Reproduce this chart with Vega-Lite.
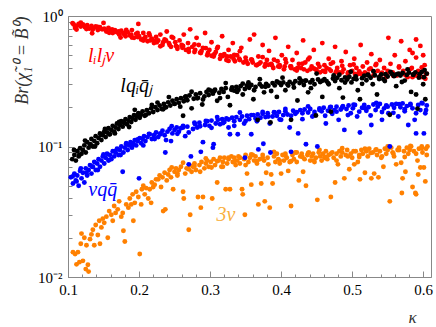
{
"$schema":"https://vega.github.io/schema/vega-lite/v6.json",
"autosize":{"type":"none"},
"padding":{"left":68,"top":16,"right":5,"bottom":50},
"width":363,"height":261,
"config":{"view":{"stroke":"#888888","strokeWidth":1},"axis":{"domainColor":"#888888","tickColor":"#888888","grid":false,"labelFont":"Liberation Serif","labelFontSize":15,"labelColor":"#000000","titleFont":"Liberation Serif","titleFontWeight":"normal","titleColor":"#333333"}},
"resolve":{"axis":{"x":"independent","y":"independent"}},
"datasets":{
"pts":[
{"s":"o","k":0.107,"b":0.0155},{"s":"o","k":0.110,"b":0.015},{"s":"o","k":0.112,"b":0.0125},{"s":"o","k":0.114,"b":0.0155},{"s":"o","k":0.116,"b":0.013},{"s":"o","k":0.118,"b":0.018},{"s":"o","k":0.119,"b":0.0215},{"s":"o","k":0.121,"b":0.0133},{"s":"o","k":0.123,"b":0.020},{"s":"o","k":0.125,"b":0.0115},{"s":"o","k":0.126,"b":0.0175},{"s":"o","k":0.128,"b":0.0124},{"s":"o","k":0.129,"b":0.011},{"s":"o","k":0.131,"b":0.0195},{"s":"o","k":0.133,"b":0.0212},{"s":"o","k":0.135,"b":0.023},{"s":"o","k":0.137,"b":0.0175},{"s":"o","k":0.139,"b":0.025},{"s":"o","k":0.142,"b":0.021},{"s":"o","k":0.144,"b":0.027},{"s":"o","k":0.145,"b":0.018},{"s":"o","k":0.147,"b":0.024},{"s":"o","k":0.149,"b":0.028},{"s":"o","k":0.151,"b":0.026},{"s":"o","k":0.154,"b":0.029},{"s":"o","k":0.156,"b":0.020},{"s":"o","k":0.158,"b":0.032},{"s":"o","k":0.161,"b":0.030},{"s":"o","k":0.163,"b":0.027},{"s":"o","k":0.165,"b":0.035},{"s":"o","k":0.167,"b":0.031},{"s":"o","k":0.170,"b":0.033},{"s":"o","k":0.172,"b":0.038},{"s":"o","k":0.175,"b":0.029},{"s":"o","k":0.177,"b":0.031},{"s":"o","k":0.178,"b":0.0226},{"s":"o","k":0.180,"b":0.0187},{"s":"o","k":0.182,"b":0.036},{"s":"o","k":0.185,"b":0.034},{"s":"o","k":0.187,"b":0.040},{"s":"o","k":0.189,"b":0.036},{"s":"o","k":0.191,"b":0.043},{"s":"o","k":0.192,"b":0.027},{"s":"o","k":0.194,"b":0.037},{"s":"o","k":0.196,"b":0.045},{"s":"o","k":0.199,"b":0.041},{"s":"o","k":0.201,"b":0.015},{"s":"o","k":0.203,"b":0.036},{"s":"o","k":0.204,"b":0.047},{"s":"o","k":0.206,"b":0.050},{"s":"o","k":0.208,"b":0.043},{"s":"o","k":0.210,"b":0.048},{"s":"o","k":0.213,"b":0.040},{"s":"o","k":0.215,"b":0.047},{"s":"o","k":0.217,"b":0.037},{"s":"o","k":0.218,"b":0.053},{"s":"o","k":0.220,"b":0.049},{"s":"o","k":0.222,"b":0.051},{"s":"o","k":0.224,"b":0.056},{"s":"o","k":0.227,"b":0.056},{"s":"o","k":0.229,"b":0.060},{"s":"o","k":0.231,"b":0.049},{"s":"o","k":0.233,"b":0.058},{"s":"o","k":0.234,"b":0.032},{"s":"o","k":0.236,"b":0.063},{"s":"o","k":0.237,"b":0.033},{"s":"o","k":0.239,"b":0.055},{"s":"o","k":0.241,"b":0.061},{"s":"o","k":0.243,"b":0.066},{"s":"o","k":0.245,"b":0.058},{"s":"o","k":0.248,"b":0.047},{"s":"o","k":0.250,"b":0.064},{"s":"o","k":0.252,"b":0.068},{"s":"o","k":0.254,"b":0.060},{"s":"o","k":0.256,"b":0.066},{"s":"o","k":0.259,"b":0.070},{"s":"o","k":0.262,"b":0.045},{"s":"o","k":0.263,"b":0.040},{"s":"o","k":0.265,"b":0.062},{"s":"o","k":0.267,"b":0.068},{"s":"o","k":0.270,"b":0.023},{"s":"o","k":0.271,"b":0.072},{"s":"o","k":0.272,"b":0.030},{"s":"o","k":0.274,"b":0.064},{"s":"o","k":0.276,"b":0.070},{"s":"o","k":0.278,"b":0.074},{"s":"o","k":0.280,"b":0.066},{"s":"o","k":0.283,"b":0.041},{"s":"o","k":0.285,"b":0.072},{"s":"o","k":0.287,"b":0.034},{"s":"o","k":0.288,"b":0.076},{"s":"o","k":0.290,"b":0.041},{"s":"o","k":0.292,"b":0.068},{"s":"o","k":0.294,"b":0.074},{"s":"o","k":0.296,"b":0.078},{"s":"o","k":0.298,"b":0.070},{"s":"o","k":0.301,"b":0.076},{"s":"o","k":0.303,"b":0.040},{"s":"o","k":0.305,"b":0.080},{"s":"o","k":0.307,"b":0.072},{"s":"o","k":0.310,"b":0.053},{"s":"o","k":0.312,"b":0.078},{"s":"o","k":0.314,"b":0.082},{"s":"o","k":0.316,"b":0.070},{"s":"o","k":0.318,"b":0.076},{"s":"o","k":0.320,"b":0.082},{"s":"o","k":0.322,"b":0.047},{"s":"o","k":0.324,"b":0.074},{"s":"o","k":0.326,"b":0.080},{"s":"o","k":0.328,"b":0.047},{"s":"o","k":0.330,"b":0.084},{"s":"o","k":0.332,"b":0.076},{"s":"o","k":0.334,"b":0.082},{"s":"o","k":0.336,"b":0.072},{"s":"o","k":0.338,"b":0.078},{"s":"o","k":0.340,"b":0.084},{"s":"o","k":0.342,"b":0.074},{"s":"o","k":0.345,"b":0.047},{"s":"o","k":0.346,"b":0.043},{"s":"o","k":0.348,"b":0.080},{"s":"o","k":0.349,"b":0.030},{"s":"o","k":0.350,"b":0.086},{"s":"o","k":0.352,"b":0.062},{"s":"o","k":0.354,"b":0.076},{"s":"o","k":0.356,"b":0.082},{"s":"o","k":0.358,"b":0.051},{"s":"o","k":0.360,"b":0.086},{"s":"o","k":0.362,"b":0.078},{"s":"o","k":0.364,"b":0.084},{"s":"o","k":0.366,"b":0.074},{"s":"o","k":0.368,"b":0.036},{"s":"o","k":0.370,"b":0.080},{"s":"o","k":0.372,"b":0.052},{"s":"o","k":0.374,"b":0.086},{"s":"o","k":0.376,"b":0.078},{"s":"o","k":0.377,"b":0.038},{"s":"o","k":0.379,"b":0.063},{"s":"o","k":0.381,"b":0.082},{"s":"o","k":0.384,"b":0.034},{"s":"o","k":0.386,"b":0.061},{"s":"o","k":0.388,"b":0.052},{"s":"o","k":0.390,"b":0.084},{"s":"o","k":0.392,"b":0.076},{"s":"o","k":0.394,"b":0.088},{"s":"o","k":0.396,"b":0.080},{"s":"o","k":0.398,"b":0.074},{"s":"o","k":0.400,"b":0.062},{"s":"o","k":0.402,"b":0.086},{"s":"o","k":0.404,"b":0.078},{"s":"o","k":0.406,"b":0.088},{"s":"o","k":0.408,"b":0.082},{"s":"o","k":0.410,"b":0.065},{"s":"o","k":0.412,"b":0.076},{"s":"o","k":0.414,"b":0.035},{"s":"o","k":0.416,"b":0.086},{"s":"o","k":0.418,"b":0.080},{"s":"o","k":0.420,"b":0.090},{"s":"o","k":0.422,"b":0.076},{"s":"o","k":0.425,"b":0.055},{"s":"o","k":0.427,"b":0.084},{"s":"o","k":0.429,"b":0.088},{"s":"o","k":0.431,"b":0.064},{"s":"o","k":0.433,"b":0.080},{"s":"o","k":0.435,"b":0.050},{"s":"o","k":0.437,"b":0.086},{"s":"o","k":0.439,"b":0.090},{"s":"o","k":0.441,"b":0.078},{"s":"o","k":0.443,"b":0.084},{"s":"o","k":0.445,"b":0.088},{"s":"o","k":0.447,"b":0.076},{"s":"o","k":0.449,"b":0.082},{"s":"o","k":0.451,"b":0.039},{"s":"o","k":0.453,"b":0.090},{"s":"o","k":0.455,"b":0.084},{"s":"o","k":0.457,"b":0.078},{"s":"o","k":0.459,"b":0.088},{"s":"o","k":0.461,"b":0.082},{"s":"o","k":0.463,"b":0.092},{"s":"o","k":0.465,"b":0.080},{"s":"o","k":0.467,"b":0.086},{"s":"o","k":0.470,"b":0.041},{"s":"o","k":0.472,"b":0.090},{"s":"o","k":0.474,"b":0.082},{"s":"o","k":0.476,"b":0.053},{"s":"o","k":0.478,"b":0.088},{"s":"o","k":0.480,"b":0.073},{"s":"o","k":0.482,"b":0.092},{"s":"o","k":0.484,"b":0.084},{"s":"o","k":0.486,"b":0.090},{"s":"o","k":0.489,"b":0.057},{"s":"o","k":0.491,"b":0.086},{"s":"o","k":0.493,"b":0.094},{"s":"o","k":0.496,"b":0.067},{"s":"o","k":0.498,"b":0.088},{"s":"o","k":0.500,"b":0.082},{"s":"o","k":0.503,"b":0.073},{"s":"o","k":0.505,"b":0.092},{"s":"o","k":0.508,"b":0.076},{"s":"o","k":0.510,"b":0.086},{"s":"o","k":0.511,"b":0.056},{"s":"o","k":0.513,"b":0.094},{"s":"o","k":0.515,"b":0.088},{"s":"o","k":0.518,"b":0.063},{"s":"o","k":0.520,"b":0.092},{"s":"o","k":0.522,"b":0.084},{"s":"o","k":0.524,"b":0.096},{"s":"o","k":0.527,"b":0.057},{"s":"o","k":0.529,"b":0.090},{"s":"o","k":0.531,"b":0.062},{"s":"o","k":0.533,"b":0.094},{"s":"o","k":0.535,"b":0.086},{"s":"o","k":0.537,"b":0.058},{"s":"o","k":0.539,"b":0.092},{"s":"o","k":0.541,"b":0.082},{"s":"o","k":0.544,"b":0.070},{"s":"o","k":0.546,"b":0.096},{"s":"o","k":0.548,"b":0.088},{"s":"o","k":0.550,"b":0.094},{"s":"o","k":0.553,"b":0.038},{"s":"o","k":0.555,"b":0.098},{"s":"o","k":0.557,"b":0.090},{"s":"o","k":0.559,"b":0.084},{"s":"o","k":0.562,"b":0.073},{"s":"o","k":0.564,"b":0.094},{"s":"o","k":0.566,"b":0.098},{"s":"o","k":0.569,"b":0.075},{"s":"o","k":0.570,"b":0.044},{"s":"o","k":0.571,"b":0.057},{"s":"o","k":0.573,"b":0.092},{"s":"o","k":0.575,"b":0.064},{"s":"o","k":0.577,"b":0.098},{"s":"o","k":0.579,"b":0.088},{"s":"o","k":0.581,"b":0.094},{"s":"o","k":0.583,"b":0.100},{"s":"o","k":0.585,"b":0.049},{"s":"o","k":0.587,"b":0.092},{"s":"o","k":0.589,"b":0.044},{"s":"o","k":0.590,"b":0.043},{"s":"o","k":0.592,"b":0.078},{"s":"o","k":0.593,"b":0.061},{"s":"o","k":0.594,"b":0.096},{"s":"o","k":0.596,"b":0.069},{"s":"o","k":0.598,"b":0.100},{"s":"o","k":0.599,"b":0.090},{"s":"o","k":0.601,"b":0.069},{"s":"o","k":0.603,"b":0.054},{"s":"o","k":0.604,"b":0.096},{"s":"o","k":0.606,"b":0.100},{"s":"o","k":0.605,"b":0.086},
{"s":"o","k":0.246,"b":0.069},{"s":"o","k":0.254,"b":0.062},{"s":"o","k":0.262,"b":0.075},{"s":"o","k":0.270,"b":0.067},{"s":"o","k":0.278,"b":0.071},{"s":"o","k":0.286,"b":0.064},{"s":"o","k":0.294,"b":0.081},{"s":"o","k":0.302,"b":0.069},{"s":"o","k":0.310,"b":0.077},{"s":"o","k":0.318,"b":0.070},{"s":"o","k":0.326,"b":0.082},{"s":"o","k":0.334,"b":0.076},{"s":"o","k":0.342,"b":0.082},{"s":"o","k":0.350,"b":0.072},{"s":"o","k":0.358,"b":0.087},{"s":"o","k":0.366,"b":0.077},{"s":"o","k":0.374,"b":0.082},{"s":"o","k":0.382,"b":0.073},{"s":"o","k":0.390,"b":0.091},{"s":"o","k":0.398,"b":0.078},{"s":"o","k":0.406,"b":0.085},{"s":"o","k":0.414,"b":0.077},{"s":"o","k":0.422,"b":0.090},{"s":"o","k":0.430,"b":0.083},{"s":"o","k":0.438,"b":0.089},{"s":"o","k":0.446,"b":0.078},{"s":"o","k":0.454,"b":0.094},{"s":"o","k":0.462,"b":0.083},{"s":"o","k":0.470,"b":0.088},{"s":"o","k":0.478,"b":0.078},{"s":"o","k":0.486,"b":0.097},{"s":"o","k":0.494,"b":0.084},{"s":"o","k":0.502,"b":0.092},{"s":"o","k":0.510,"b":0.083},{"s":"o","k":0.518,"b":0.096},{"s":"o","k":0.526,"b":0.089},{"s":"o","k":0.534,"b":0.095},{"s":"o","k":0.542,"b":0.084},{"s":"o","k":0.550,"b":0.100},{"s":"o","k":0.558,"b":0.088},{"s":"o","k":0.566,"b":0.094},{"s":"o","k":0.574,"b":0.083},{"s":"o","k":0.582,"b":0.101},{"s":"o","k":0.590,"b":0.088},{"s":"o","k":0.598,"b":0.097},
{"s":"u","k":0.104,"b":0.058},{"s":"u","k":0.107,"b":0.052},{"s":"u","k":0.109,"b":0.062},{"s":"u","k":0.111,"b":0.055},{"s":"u","k":0.113,"b":0.060},{"s":"u","k":0.115,"b":0.050},{"s":"u","k":0.117,"b":0.065},{"s":"u","k":0.119,"b":0.057},{"s":"u","k":0.121,"b":0.063},{"s":"u","k":0.123,"b":0.053},{"s":"u","k":0.125,"b":0.068},{"s":"u","k":0.127,"b":0.060},{"s":"u","k":0.129,"b":0.066},{"s":"u","k":0.131,"b":0.072},{"s":"u","k":0.133,"b":0.062},{"s":"u","k":0.135,"b":0.070},{"s":"u","k":0.137,"b":0.076},{"s":"u","k":0.139,"b":0.066},{"s":"u","k":0.141,"b":0.074},{"s":"u","k":0.143,"b":0.080},{"s":"u","k":0.145,"b":0.070},{"s":"u","k":0.147,"b":0.078},{"s":"u","k":0.149,"b":0.084},{"s":"u","k":0.151,"b":0.074},{"s":"u","k":0.153,"b":0.082},{"s":"u","k":0.155,"b":0.088},{"s":"u","k":0.157,"b":0.078},{"s":"u","k":0.159,"b":0.086},{"s":"u","k":0.161,"b":0.080},{"s":"u","k":0.163,"b":0.092},{"s":"u","k":0.165,"b":0.084},{"s":"u","k":0.167,"b":0.090},{"s":"u","k":0.169,"b":0.096},{"s":"u","k":0.171,"b":0.086},{"s":"u","k":0.173,"b":0.094},{"s":"u","k":0.175,"b":0.100},{"s":"u","k":0.177,"b":0.064},{"s":"u","k":0.178,"b":0.090},{"s":"u","k":0.180,"b":0.098},{"s":"u","k":0.182,"b":0.104},{"s":"u","k":0.184,"b":0.094},{"s":"u","k":0.186,"b":0.102},{"s":"u","k":0.188,"b":0.108},{"s":"u","k":0.190,"b":0.098},{"s":"u","k":0.192,"b":0.106},{"s":"u","k":0.194,"b":0.112},{"s":"u","k":0.196,"b":0.102},{"s":"u","k":0.198,"b":0.110},{"s":"u","k":0.200,"b":0.057},{"s":"u","k":0.201,"b":0.116},{"s":"u","k":0.203,"b":0.106},{"s":"u","k":0.205,"b":0.114},{"s":"u","k":0.207,"b":0.120},{"s":"u","k":0.209,"b":0.110},{"s":"u","k":0.212,"b":0.118},{"s":"u","k":0.215,"b":0.124},{"s":"u","k":0.218,"b":0.114},{"s":"u","k":0.221,"b":0.122},{"s":"u","k":0.224,"b":0.128},{"s":"u","k":0.227,"b":0.118},{"s":"u","k":0.230,"b":0.126},{"s":"u","k":0.233,"b":0.132},{"s":"u","k":0.236,"b":0.122},{"s":"u","k":0.237,"b":0.090},{"s":"u","k":0.240,"b":0.130},{"s":"u","k":0.243,"b":0.136},{"s":"u","k":0.245,"b":0.110},{"s":"u","k":0.247,"b":0.126},{"s":"u","k":0.250,"b":0.134},{"s":"u","k":0.253,"b":0.140},{"s":"u","k":0.256,"b":0.130},{"s":"u","k":0.259,"b":0.138},{"s":"u","k":0.262,"b":0.144},{"s":"u","k":0.265,"b":0.120},{"s":"u","k":0.268,"b":0.142},{"s":"u","k":0.270,"b":0.073},{"s":"u","k":0.273,"b":0.084},{"s":"u","k":0.276,"b":0.136},{"s":"u","k":0.279,"b":0.148},{"s":"u","k":0.282,"b":0.140},{"s":"u","k":0.285,"b":0.152},{"s":"u","k":0.287,"b":0.091},{"s":"u","k":0.290,"b":0.108},{"s":"u","k":0.293,"b":0.146},{"s":"u","k":0.296,"b":0.156},{"s":"u","k":0.299,"b":0.144},{"s":"u","k":0.302,"b":0.158},{"s":"u","k":0.304,"b":0.098},{"s":"u","k":0.305,"b":0.104},{"s":"u","k":0.308,"b":0.150},{"s":"u","k":0.311,"b":0.160},{"s":"u","k":0.314,"b":0.148},{"s":"u","k":0.317,"b":0.162},{"s":"u","k":0.320,"b":0.154},{"s":"u","k":0.323,"b":0.164},{"s":"u","k":0.326,"b":0.140},{"s":"u","k":0.328,"b":0.124},{"s":"u","k":0.331,"b":0.166},{"s":"u","k":0.334,"b":0.156},{"s":"u","k":0.337,"b":0.168},{"s":"u","k":0.339,"b":0.124},{"s":"u","k":0.342,"b":0.160},{"s":"u","k":0.345,"b":0.170},{"s":"u","k":0.348,"b":0.150},{"s":"u","k":0.349,"b":0.082},{"s":"u","k":0.352,"b":0.172},{"s":"u","k":0.355,"b":0.162},{"s":"u","k":0.358,"b":0.124},{"s":"u","k":0.361,"b":0.174},{"s":"u","k":0.364,"b":0.164},{"s":"u","k":0.367,"b":0.176},{"s":"u","k":0.368,"b":0.095},{"s":"u","k":0.371,"b":0.166},{"s":"u","k":0.374,"b":0.178},{"s":"u","k":0.375,"b":0.105},{"s":"u","k":0.378,"b":0.168},{"s":"u","k":0.381,"b":0.180},{"s":"u","k":0.384,"b":0.150},{"s":"u","k":0.385,"b":0.090},{"s":"u","k":0.388,"b":0.170},{"s":"u","k":0.391,"b":0.182},{"s":"u","k":0.394,"b":0.172},{"s":"u","k":0.397,"b":0.184},{"s":"u","k":0.400,"b":0.160},{"s":"u","k":0.403,"b":0.174},{"s":"u","k":0.406,"b":0.186},{"s":"u","k":0.409,"b":0.176},{"s":"u","k":0.412,"b":0.140},{"s":"u","k":0.414,"b":0.091},{"s":"u","k":0.417,"b":0.188},{"s":"u","k":0.420,"b":0.178},{"s":"u","k":0.424,"b":0.126},{"s":"u","k":0.427,"b":0.190},{"s":"u","k":0.430,"b":0.180},{"s":"u","k":0.433,"b":0.192},{"s":"u","k":0.435,"b":0.104},{"s":"u","k":0.438,"b":0.182},{"s":"u","k":0.441,"b":0.194},{"s":"u","k":0.444,"b":0.170},{"s":"u","k":0.447,"b":0.184},{"s":"u","k":0.451,"b":0.100},{"s":"u","k":0.454,"b":0.196},{"s":"u","k":0.457,"b":0.186},{"s":"u","k":0.460,"b":0.198},{"s":"u","k":0.463,"b":0.150},{"s":"u","k":0.466,"b":0.188},{"s":"u","k":0.469,"b":0.200},{"s":"u","k":0.472,"b":0.178},{"s":"u","k":0.475,"b":0.190},{"s":"u","k":0.478,"b":0.202},{"s":"u","k":0.481,"b":0.160},{"s":"u","k":0.484,"b":0.192},{"s":"u","k":0.487,"b":0.204},{"s":"u","k":0.489,"b":0.134},{"s":"u","k":0.492,"b":0.194},{"s":"u","k":0.495,"b":0.206},{"s":"u","k":0.498,"b":0.180},{"s":"u","k":0.501,"b":0.196},{"s":"u","k":0.504,"b":0.208},{"s":"u","k":0.507,"b":0.170},{"s":"u","k":0.511,"b":0.128},{"s":"u","k":0.514,"b":0.198},{"s":"u","k":0.517,"b":0.208},{"s":"u","k":0.520,"b":0.188},{"s":"u","k":0.523,"b":0.200},{"s":"u","k":0.527,"b":0.146},{"s":"u","k":0.530,"b":0.210},{"s":"u","k":0.533,"b":0.190},{"s":"u","k":0.536,"b":0.202},{"s":"u","k":0.539,"b":0.212},{"s":"u","k":0.542,"b":0.160},{"s":"u","k":0.545,"b":0.196},{"s":"u","k":0.548,"b":0.206},{"s":"u","k":0.551,"b":0.180},{"s":"u","k":0.553,"b":0.100},{"s":"u","k":0.556,"b":0.210},{"s":"u","k":0.559,"b":0.198},{"s":"u","k":0.562,"b":0.212},{"s":"u","k":0.565,"b":0.170},{"s":"u","k":0.568,"b":0.200},{"s":"u","k":0.571,"b":0.214},{"s":"u","k":0.574,"b":0.186},{"s":"u","k":0.577,"b":0.204},{"s":"u","k":0.579,"b":0.146},{"s":"u","k":0.582,"b":0.212},{"s":"u","k":0.585,"b":0.196},{"s":"u","k":0.588,"b":0.160},{"s":"u","k":0.590,"b":0.126},{"s":"u","k":0.593,"b":0.208},{"s":"u","k":0.596,"b":0.190},{"s":"u","k":0.599,"b":0.214},{"s":"u","k":0.601,"b":0.126},{"s":"u","k":0.603,"b":0.180},{"s":"u","k":0.605,"b":0.206},
{"s":"u","k":0.1065,"b":0.059},{"s":"u","k":0.112,"b":0.054},{"s":"u","k":0.118,"b":0.068},{"s":"u","k":0.126,"b":0.063},{"s":"u","k":0.134,"b":0.070},{"s":"u","k":0.142,"b":0.066},{"s":"u","k":0.150,"b":0.087},{"s":"u","k":0.158,"b":0.079},{"s":"u","k":0.166,"b":0.092},{"s":"u","k":0.174,"b":0.086},{"s":"u","k":0.182,"b":0.106},{"s":"u","k":0.190,"b":0.101},{"s":"u","k":0.198,"b":0.113},{"s":"u","k":0.206,"b":0.102},{"s":"u","k":0.214,"b":0.125},{"s":"u","k":0.222,"b":0.114},{"s":"u","k":0.230,"b":0.124},{"s":"u","k":0.238,"b":0.112},{"s":"u","k":0.246,"b":0.143},{"s":"u","k":0.254,"b":0.125},{"s":"u","k":0.262,"b":0.140},{"s":"u","k":0.270,"b":0.128},{"s":"u","k":0.278,"b":0.152},{"s":"u","k":0.286,"b":0.143},{"s":"u","k":0.294,"b":0.157},{"s":"u","k":0.302,"b":0.139},{"s":"u","k":0.310,"b":0.168},{"s":"u","k":0.318,"b":0.151},{"s":"u","k":0.326,"b":0.161},{"s":"u","k":0.334,"b":0.144},{"s":"u","k":0.342,"b":0.182},{"s":"u","k":0.350,"b":0.157},{"s":"u","k":0.358,"b":0.174},{"s":"u","k":0.366,"b":0.156},{"s":"u","k":0.374,"b":0.184},{"s":"u","k":0.382,"b":0.170},{"s":"u","k":0.390,"b":0.183},{"s":"u","k":0.398,"b":0.161},{"s":"u","k":0.406,"b":0.194},{"s":"u","k":0.414,"b":0.172},{"s":"u","k":0.422,"b":0.183},{"s":"u","k":0.430,"b":0.162},{"s":"u","k":0.438,"b":0.203},{"s":"u","k":0.446,"b":0.173},{"s":"u","k":0.454,"b":0.190},{"s":"u","k":0.462,"b":0.172},{"s":"u","k":0.470,"b":0.201},{"s":"u","k":0.478,"b":0.185},{"s":"u","k":0.486,"b":0.199},{"s":"u","k":0.494,"b":0.174},{"s":"u","k":0.502,"b":0.209},{"s":"u","k":0.510,"b":0.185},{"s":"u","k":0.518,"b":0.196},{"s":"u","k":0.526,"b":0.173},{"s":"u","k":0.534,"b":0.216},{"s":"u","k":0.542,"b":0.184},{"s":"u","k":0.550,"b":0.202},{"s":"u","k":0.558,"b":0.181},{"s":"u","k":0.566,"b":0.211},{"s":"u","k":0.574,"b":0.193},{"s":"u","k":0.582,"b":0.208},{"s":"u","k":0.590,"b":0.180},{"s":"u","k":0.598,"b":0.216},{"s":"u","k":0.604,"b":0.190},
{"s":"r","k":0.108,"b":0.86},{"s":"r","k":0.112,"b":0.84},{"s":"r","k":0.115,"b":0.87},{"s":"r","k":0.118,"b":0.83},{"s":"r","k":0.121,"b":0.86},{"s":"r","k":0.124,"b":0.82},{"s":"r","k":0.127,"b":0.85},{"s":"r","k":0.130,"b":0.80},{"s":"r","k":0.133,"b":0.84},{"s":"r","k":0.136,"b":0.81},{"s":"r","k":0.139,"b":0.83},{"s":"r","k":0.142,"b":0.78},{"s":"r","k":0.145,"b":0.82},{"s":"r","k":0.148,"b":0.79},{"s":"r","k":0.151,"b":0.80},{"s":"r","k":0.154,"b":0.76},{"s":"r","k":0.157,"b":0.81},{"s":"r","k":0.160,"b":0.77},{"s":"r","k":0.163,"b":0.74},{"s":"r","k":0.166,"b":0.78},{"s":"r","k":0.169,"b":0.75},{"s":"r","k":0.172,"b":0.72},{"s":"r","k":0.175,"b":0.77},{"s":"r","k":0.178,"b":0.73},{"s":"r","k":0.181,"b":0.70},{"s":"r","k":0.184,"b":0.75},{"s":"r","k":0.187,"b":0.71},{"s":"r","k":0.190,"b":0.78},{"s":"r","k":0.193,"b":0.68},{"s":"r","k":0.196,"b":0.73},{"s":"r","k":0.199,"b":0.87},{"s":"r","k":0.200,"b":0.70},{"s":"r","k":0.203,"b":0.66},{"s":"r","k":0.206,"b":0.74},{"s":"r","k":0.209,"b":0.69},{"s":"r","k":0.212,"b":0.64},{"s":"r","k":0.215,"b":0.71},{"s":"r","k":0.218,"b":0.67},{"s":"r","k":0.221,"b":0.62},{"s":"r","k":0.224,"b":0.69},{"s":"r","k":0.227,"b":0.65},{"s":"r","k":0.230,"b":0.72},{"s":"r","k":0.233,"b":0.60},{"s":"r","k":0.236,"b":0.66},{"s":"r","k":0.239,"b":0.76},{"s":"r","k":0.242,"b":0.62},{"s":"r","k":0.245,"b":0.58},{"s":"r","k":0.248,"b":0.68},{"s":"r","k":0.251,"b":0.63},{"s":"r","k":0.254,"b":0.56},{"s":"r","k":0.257,"b":0.65},{"s":"r","k":0.260,"b":0.60},{"s":"r","k":0.263,"b":0.72},{"s":"r","k":0.266,"b":0.55},{"s":"r","k":0.269,"b":0.62},{"s":"r","k":0.272,"b":0.79},{"s":"r","k":0.275,"b":0.58},{"s":"r","k":0.278,"b":0.53},{"s":"r","k":0.281,"b":0.68},{"s":"r","k":0.284,"b":0.60},{"s":"r","k":0.287,"b":0.52},{"s":"r","k":0.290,"b":0.57},{"s":"r","k":0.293,"b":0.74},{"s":"r","k":0.296,"b":0.50},{"s":"r","k":0.299,"b":0.55},{"s":"r","k":0.302,"b":0.63},{"s":"r","k":0.305,"b":0.49},{"s":"r","k":0.308,"b":0.53},{"s":"r","k":0.311,"b":0.58},{"s":"r","k":0.314,"b":0.47},{"s":"r","k":0.317,"b":0.70},{"s":"r","k":0.320,"b":0.51},{"s":"r","k":0.323,"b":0.46},{"s":"r","k":0.326,"b":0.55},{"s":"r","k":0.329,"b":0.49},{"s":"r","k":0.332,"b":0.62},{"s":"r","k":0.335,"b":0.45},{"s":"r","k":0.338,"b":0.50},{"s":"r","k":0.341,"b":0.47},{"s":"r","k":0.344,"b":0.57},{"s":"r","k":0.347,"b":0.44},{"s":"r","k":0.350,"b":0.48},{"s":"r","k":0.353,"b":0.43},{"s":"r","k":0.356,"b":0.66},{"s":"r","k":0.359,"b":0.46},{"s":"r","k":0.362,"b":0.72},{"s":"r","k":0.365,"b":0.42},{"s":"r","k":0.368,"b":0.49},{"s":"r","k":0.371,"b":0.44},{"s":"r","k":0.374,"b":0.60},{"s":"r","k":0.377,"b":0.41},{"s":"r","k":0.380,"b":0.46},{"s":"r","k":0.383,"b":0.54},{"s":"r","k":0.386,"b":0.43},{"s":"r","k":0.389,"b":0.40},{"s":"r","k":0.392,"b":0.68},{"s":"r","k":0.395,"b":0.45},{"s":"r","k":0.398,"b":0.42},{"s":"r","k":0.401,"b":0.50},{"s":"r","k":0.404,"b":0.39},{"s":"r","k":0.407,"b":0.44},{"s":"r","k":0.410,"b":0.58},{"s":"r","k":0.413,"b":0.41},{"s":"r","k":0.416,"b":0.46},{"s":"r","k":0.419,"b":0.39},{"s":"r","k":0.422,"b":0.52},{"s":"r","k":0.425,"b":0.43},{"s":"r","k":0.428,"b":0.40},{"s":"r","k":0.431,"b":0.65},{"s":"r","k":0.434,"b":0.44},{"s":"r","k":0.437,"b":0.38},{"s":"r","k":0.440,"b":0.48},{"s":"r","k":0.443,"b":0.41},{"s":"r","k":0.446,"b":0.55},{"s":"r","k":0.449,"b":0.39},{"s":"r","k":0.452,"b":0.43},{"s":"r","k":0.455,"b":0.37},{"s":"r","k":0.458,"b":0.62},{"s":"r","k":0.461,"b":0.42},{"s":"r","k":0.464,"b":0.40},{"s":"r","k":0.467,"b":0.47},{"s":"r","k":0.470,"b":0.38},{"s":"r","k":0.473,"b":0.44},{"s":"r","k":0.476,"b":0.58},{"s":"r","k":0.479,"b":0.40},{"s":"r","k":0.482,"b":0.37},{"s":"r","k":0.485,"b":0.45},{"s":"r","k":0.488,"b":0.39},{"s":"r","k":0.491,"b":0.53},{"s":"r","k":0.494,"b":0.36},{"s":"r","k":0.497,"b":0.42},{"s":"r","k":0.500,"b":0.38},{"s":"r","k":0.503,"b":0.47},{"s":"r","k":0.506,"b":0.40},{"s":"r","k":0.509,"b":0.36},{"s":"r","k":0.512,"b":0.60},{"s":"r","k":0.515,"b":0.41},{"s":"r","k":0.518,"b":0.37},{"s":"r","k":0.521,"b":0.44},{"s":"r","k":0.524,"b":0.39},{"s":"r","k":0.527,"b":0.51},{"s":"r","k":0.530,"b":0.35},{"s":"r","k":0.533,"b":0.42},{"s":"r","k":0.536,"b":0.38},{"s":"r","k":0.539,"b":0.46},{"s":"r","k":0.542,"b":0.36},{"s":"r","k":0.545,"b":0.40},{"s":"r","k":0.548,"b":0.34},{"s":"r","k":0.551,"b":0.68},{"s":"r","k":0.554,"b":0.43},{"s":"r","k":0.557,"b":0.37},{"s":"r","k":0.560,"b":0.50},{"s":"r","k":0.563,"b":0.35},{"s":"r","k":0.566,"b":0.41},{"s":"r","k":0.569,"b":0.64},{"s":"r","k":0.572,"b":0.38},{"s":"r","k":0.575,"b":0.45},{"s":"r","k":0.578,"b":0.34},{"s":"r","k":0.581,"b":0.55},{"s":"r","k":0.584,"b":0.40},{"s":"r","k":0.587,"b":0.36},{"s":"r","k":0.590,"b":0.48},{"s":"r","k":0.593,"b":0.38},{"s":"r","k":0.596,"b":0.59},{"s":"r","k":0.599,"b":0.34},{"s":"r","k":0.602,"b":0.42},{"s":"r","k":0.605,"b":0.36},{"s":"r","k":0.590,"b":0.66},{"s":"r","k":0.585,"b":0.52},{"s":"r","k":0.600,"b":0.50},
{"s":"r","k":0.110,"b":0.81},{"s":"r","k":0.117,"b":0.85},{"s":"r","k":0.126,"b":0.83},{"s":"r","k":0.135,"b":0.79},{"s":"r","k":0.144,"b":0.80},{"s":"r","k":0.153,"b":0.78},{"s":"r","k":0.162,"b":0.79},{"s":"r","k":0.171,"b":0.76},{"s":"r","k":0.180,"b":0.74},{"s":"r","k":0.189,"b":0.72},{"s":"r","k":0.198,"b":0.69},{"s":"r","k":0.207,"b":0.67},{"s":"r","k":0.216,"b":0.65},{"s":"r","k":0.225,"b":0.63},{"s":"r","k":0.234,"b":0.63},{"s":"r","k":0.243,"b":0.60},{"s":"r","k":0.252,"b":0.59},{"s":"r","k":0.261,"b":0.57},{"s":"r","k":0.270,"b":0.56},{"s":"r","k":0.279,"b":0.55},{"s":"r","k":0.288,"b":0.54},{"s":"r","k":0.297,"b":0.52},{"s":"r","k":0.306,"b":0.51},{"s":"r","k":0.315,"b":0.50},{"s":"r","k":0.324,"b":0.49},{"s":"r","k":0.333,"b":0.47},{"s":"r","k":0.342,"b":0.46},{"s":"r","k":0.351,"b":0.45},{"s":"r","k":0.360,"b":0.44},{"s":"r","k":0.369,"b":0.43},{"s":"r","k":0.378,"b":0.43},{"s":"r","k":0.387,"b":0.42},{"s":"r","k":0.396,"b":0.41},{"s":"r","k":0.405,"b":0.41},{"s":"r","k":0.414,"b":0.40},{"s":"r","k":0.423,"b":0.40},{"s":"r","k":0.432,"b":0.39},{"s":"r","k":0.441,"b":0.39},{"s":"r","k":0.450,"b":0.38},{"s":"r","k":0.459,"b":0.38},{"s":"r","k":0.468,"b":0.39},{"s":"r","k":0.477,"b":0.37},{"s":"r","k":0.486,"b":0.37},{"s":"r","k":0.495,"b":0.37},{"s":"r","k":0.504,"b":0.36},{"s":"r","k":0.513,"b":0.36},{"s":"r","k":0.522,"b":0.36},{"s":"r","k":0.531,"b":0.37},{"s":"r","k":0.540,"b":0.35},{"s":"r","k":0.549,"b":0.36},{"s":"r","k":0.558,"b":0.35},{"s":"r","k":0.567,"b":0.36},{"s":"r","k":0.576,"b":0.35},{"s":"r","k":0.585,"b":0.34},{"s":"r","k":0.594,"b":0.35},{"s":"r","k":0.603,"b":0.33},
{"s":"r","k":0.1065,"b":0.88},{"s":"r","k":0.112,"b":0.788},{"s":"r","k":0.118,"b":0.89},{"s":"r","k":0.126,"b":0.795},{"s":"r","k":0.134,"b":0.737},{"s":"r","k":0.142,"b":0.824},{"s":"r","k":0.150,"b":0.885},{"s":"r","k":0.158,"b":0.744},{"s":"r","k":0.166,"b":0.76},{"s":"r","k":0.174,"b":0.685},{"s":"r","k":0.182,"b":0.781},{"s":"r","k":0.190,"b":0.684},{"s":"r","k":0.198,"b":0.740},{"s":"r","k":0.206,"b":0.649},{"s":"r","k":0.214,"b":0.736},{"s":"r","k":0.222,"b":0.640},{"s":"r","k":0.230,"b":0.587},{"s":"r","k":0.238,"b":0.649},{"s":"r","k":0.246,"b":0.691},{"s":"r","k":0.254,"b":0.580},{"s":"r","k":0.262,"b":0.59},{"s":"r","k":0.270,"b":0.532},{"s":"r","k":0.278,"b":0.605},{"s":"r","k":0.286,"b":0.524},{"s":"r","k":0.294,"b":0.567},{"s":"r","k":0.302,"b":0.496},{"s":"r","k":0.310,"b":0.565},{"s":"r","k":0.318,"b":0.493},{"s":"r","k":0.326,"b":0.453},{"s":"r","k":0.334,"b":0.504},{"s":"r","k":0.342,"b":0.538},{"s":"r","k":0.350,"b":0.451},{"s":"r","k":0.358,"b":0.464},{"s":"r","k":0.366,"b":0.421},{"s":"r","k":0.374,"b":0.484},{"s":"r","k":0.382,"b":0.423},{"s":"r","k":0.390,"b":0.462},{"s":"r","k":0.398,"b":0.408},{"s":"r","k":0.406,"b":0.467},{"s":"r","k":0.414,"b":0.411},{"s":"r","k":0.422,"b":0.382},{"s":"r","k":0.430,"b":0.431},{"s":"r","k":0.438,"b":0.465},{"s":"r","k":0.446,"b":0.396},{"s":"r","k":0.454,"b":0.408},{"s":"r","k":0.462,"b":0.373},{"s":"r","k":0.470,"b":0.430},{"s":"r","k":0.478,"b":0.378},{"s":"r","k":0.486,"b":0.415},{"s":"r","k":0.494,"b":0.368},{"s":"r","k":0.502,"b":0.425},{"s":"r","k":0.510,"b":0.376},{"s":"r","k":0.518,"b":0.351},{"s":"r","k":0.526,"b":0.396},{"s":"r","k":0.534,"b":0.429},{"s":"r","k":0.542,"b":0.367},{"s":"r","k":0.550,"b":0.38},{"s":"r","k":0.558,"b":0.348},{"s":"r","k":0.566,"b":0.403},{"s":"r","k":0.574,"b":0.356},{"s":"r","k":0.582,"b":0.392},{"s":"r","k":0.590,"b":0.350},{"s":"r","k":0.598,"b":0.403},{"s":"r","k":0.604,"b":0.359},
{"s":"k","k":0.106,"b":0.080},{"s":"k","k":0.109,"b":0.086},{"s":"k","k":0.111,"b":0.078},{"s":"k","k":0.113,"b":0.092},{"s":"k","k":0.115,"b":0.084},{"s":"k","k":0.117,"b":0.097},{"s":"k","k":0.119,"b":0.088},{"s":"k","k":0.121,"b":0.094},{"s":"k","k":0.123,"b":0.102},{"s":"k","k":0.125,"b":0.090},{"s":"k","k":0.127,"b":0.108},{"s":"k","k":0.129,"b":0.098},{"s":"k","k":0.131,"b":0.104},{"s":"k","k":0.133,"b":0.114},{"s":"k","k":0.135,"b":0.100},{"s":"k","k":0.137,"b":0.110},{"s":"k","k":0.139,"b":0.120},{"s":"k","k":0.141,"b":0.106},{"s":"k","k":0.143,"b":0.116},{"s":"k","k":0.145,"b":0.126},{"s":"k","k":0.147,"b":0.112},{"s":"k","k":0.149,"b":0.122},{"s":"k","k":0.151,"b":0.130},{"s":"k","k":0.153,"b":0.118},{"s":"k","k":0.155,"b":0.128},{"s":"k","k":0.157,"b":0.138},{"s":"k","k":0.159,"b":0.124},{"s":"k","k":0.161,"b":0.134},{"s":"k","k":0.163,"b":0.144},{"s":"k","k":0.165,"b":0.130},{"s":"k","k":0.167,"b":0.140},{"s":"k","k":0.169,"b":0.150},{"s":"k","k":0.171,"b":0.136},{"s":"k","k":0.173,"b":0.146},{"s":"k","k":0.175,"b":0.156},{"s":"k","k":0.177,"b":0.142},{"s":"k","k":0.179,"b":0.152},{"s":"k","k":0.181,"b":0.162},{"s":"k","k":0.183,"b":0.148},{"s":"k","k":0.185,"b":0.158},{"s":"k","k":0.187,"b":0.168},{"s":"k","k":0.189,"b":0.154},{"s":"k","k":0.191,"b":0.164},{"s":"k","k":0.193,"b":0.174},{"s":"k","k":0.195,"b":0.160},{"s":"k","k":0.197,"b":0.170},{"s":"k","k":0.199,"b":0.180},{"s":"k","k":0.201,"b":0.166},{"s":"k","k":0.203,"b":0.176},{"s":"k","k":0.205,"b":0.186},{"s":"k","k":0.208,"b":0.172},{"s":"k","k":0.211,"b":0.190},{"s":"k","k":0.214,"b":0.180},{"s":"k","k":0.217,"b":0.196},{"s":"k","k":0.220,"b":0.184},{"s":"k","k":0.223,"b":0.200},{"s":"k","k":0.226,"b":0.190},{"s":"k","k":0.229,"b":0.206},{"s":"k","k":0.232,"b":0.194},{"s":"k","k":0.235,"b":0.212},{"s":"k","k":0.236,"b":0.200},{"s":"k","k":0.238,"b":0.200},{"s":"k","k":0.241,"b":0.218},{"s":"k","k":0.244,"b":0.206},{"s":"k","k":0.247,"b":0.224},{"s":"k","k":0.250,"b":0.212},{"s":"k","k":0.253,"b":0.230},{"s":"k","k":0.256,"b":0.216},{"s":"k","k":0.259,"b":0.234},{"s":"k","k":0.262,"b":0.172},{"s":"k","k":0.263,"b":0.222},{"s":"k","k":0.265,"b":0.240},{"s":"k","k":0.268,"b":0.226},{"s":"k","k":0.271,"b":0.246},{"s":"k","k":0.274,"b":0.196},{"s":"k","k":0.277,"b":0.232},{"s":"k","k":0.280,"b":0.250},{"s":"k","k":0.283,"b":0.236},{"s":"k","k":0.286,"b":0.256},{"s":"k","k":0.289,"b":0.210},{"s":"k","k":0.292,"b":0.242},{"s":"k","k":0.295,"b":0.262},{"s":"k","k":0.298,"b":0.248},{"s":"k","k":0.301,"b":0.268},{"s":"k","k":0.304,"b":0.254},{"s":"k","k":0.307,"b":0.272},{"s":"k","k":0.310,"b":0.224},{"s":"k","k":0.313,"b":0.258},{"s":"k","k":0.316,"b":0.276},{"s":"k","k":0.319,"b":0.262},{"s":"k","k":0.322,"b":0.280},{"s":"k","k":0.325,"b":0.240},{"s":"k","k":0.328,"b":0.207},{"s":"k","k":0.331,"b":0.284},{"s":"k","k":0.334,"b":0.268},{"s":"k","k":0.337,"b":0.286},{"s":"k","k":0.340,"b":0.272},{"s":"k","k":0.343,"b":0.290},{"s":"k","k":0.346,"b":0.250},{"s":"k","k":0.349,"b":0.276},{"s":"k","k":0.352,"b":0.294},{"s":"k","k":0.355,"b":0.282},{"s":"k","k":0.358,"b":0.296},{"s":"k","k":0.361,"b":0.230},{"s":"k","k":0.364,"b":0.286},{"s":"k","k":0.367,"b":0.160},{"s":"k","k":0.370,"b":0.300},{"s":"k","k":0.373,"b":0.288},{"s":"k","k":0.376,"b":0.260},{"s":"k","k":0.379,"b":0.302},{"s":"k","k":0.382,"b":0.292},{"s":"k","k":0.385,"b":0.153},{"s":"k","k":0.388,"b":0.306},{"s":"k","k":0.391,"b":0.294},{"s":"k","k":0.394,"b":0.240},{"s":"k","k":0.397,"b":0.308},{"s":"k","k":0.400,"b":0.296},{"s":"k","k":0.403,"b":0.310},{"s":"k","k":0.406,"b":0.270},{"s":"k","k":0.409,"b":0.300},{"s":"k","k":0.412,"b":0.312},{"s":"k","k":0.414,"b":0.160},{"s":"k","k":0.417,"b":0.302},{"s":"k","k":0.420,"b":0.316},{"s":"k","k":0.423,"b":0.225},{"s":"k","k":0.426,"b":0.306},{"s":"k","k":0.429,"b":0.318},{"s":"k","k":0.432,"b":0.296},{"s":"k","k":0.435,"b":0.320},{"s":"k","k":0.438,"b":0.260},{"s":"k","k":0.441,"b":0.310},{"s":"k","k":0.444,"b":0.322},{"s":"k","k":0.447,"b":0.300},{"s":"k","k":0.449,"b":0.173},{"s":"k","k":0.452,"b":0.326},{"s":"k","k":0.455,"b":0.312},{"s":"k","k":0.458,"b":0.240},{"s":"k","k":0.461,"b":0.328},{"s":"k","k":0.464,"b":0.316},{"s":"k","k":0.467,"b":0.300},{"s":"k","k":0.470,"b":0.185},{"s":"k","k":0.473,"b":0.332},{"s":"k","k":0.476,"b":0.318},{"s":"k","k":0.479,"b":0.336},{"s":"k","k":0.482,"b":0.280},{"s":"k","k":0.485,"b":0.322},{"s":"k","k":0.487,"b":0.237},{"s":"k","k":0.490,"b":0.338},{"s":"k","k":0.493,"b":0.326},{"s":"k","k":0.496,"b":0.342},{"s":"k","k":0.499,"b":0.310},{"s":"k","k":0.502,"b":0.330},{"s":"k","k":0.505,"b":0.344},{"s":"k","k":0.508,"b":0.270},{"s":"k","k":0.511,"b":0.230},{"s":"k","k":0.514,"b":0.334},{"s":"k","k":0.517,"b":0.348},{"s":"k","k":0.520,"b":0.322},{"s":"k","k":0.523,"b":0.350},{"s":"k","k":0.526,"b":0.336},{"s":"k","k":0.529,"b":0.300},{"s":"k","k":0.532,"b":0.352},{"s":"k","k":0.535,"b":0.250},{"s":"k","k":0.538,"b":0.340},{"s":"k","k":0.541,"b":0.356},{"s":"k","k":0.544,"b":0.328},{"s":"k","k":0.547,"b":0.358},{"s":"k","k":0.550,"b":0.344},{"s":"k","k":0.553,"b":0.175},{"s":"k","k":0.556,"b":0.360},{"s":"k","k":0.559,"b":0.346},{"s":"k","k":0.562,"b":0.290},{"s":"k","k":0.565,"b":0.362},{"s":"k","k":0.568,"b":0.350},{"s":"k","k":0.571,"b":0.366},{"s":"k","k":0.574,"b":0.320},{"s":"k","k":0.577,"b":0.354},{"s":"k","k":0.580,"b":0.368},{"s":"k","k":0.583,"b":0.262},{"s":"k","k":0.586,"b":0.356},{"s":"k","k":0.589,"b":0.370},{"s":"k","k":0.592,"b":0.195},{"s":"k","k":0.595,"b":0.358},{"s":"k","k":0.598,"b":0.372},{"s":"k","k":0.601,"b":0.340},{"s":"k","k":0.603,"b":0.230},{"s":"k","k":0.605,"b":0.362},{"s":"k","k":0.600,"b":0.300},{"s":"k","k":0.590,"b":0.250},
{"s":"k","k":0.1085,"b":0.094},{"s":"k","k":0.116,"b":0.086},{"s":"k","k":0.124,"b":0.111},{"s":"k","k":0.132,"b":0.103},{"s":"k","k":0.138,"b":0.100},{"s":"k","k":0.146,"b":0.123},{"s":"k","k":0.152,"b":0.136},{"s":"k","k":0.158,"b":0.124},{"s":"k","k":0.166,"b":0.126},{"s":"k","k":0.172,"b":0.154},{"s":"k","k":0.178,"b":0.153},{"s":"k","k":0.186,"b":0.141},{"s":"k","k":0.194,"b":0.191},{"s":"k","k":0.202,"b":0.175},{"s":"k","k":0.210,"b":0.175},{"s":"k","k":0.218,"b":0.208},{"s":"k","k":0.226,"b":0.217},{"s":"k","k":0.234,"b":0.193},{"s":"k","k":0.242,"b":0.239},{"s":"k","k":0.250,"b":0.213},{"s":"k","k":0.258,"b":0.202},{"s":"k","k":0.266,"b":0.242},{"s":"k","k":0.274,"b":0.263},{"s":"k","k":0.282,"b":0.234},{"s":"k","k":0.290,"b":0.229},{"s":"k","k":0.298,"b":0.273},{"s":"k","k":0.306,"b":0.266},{"s":"k","k":0.314,"b":0.235},{"s":"k","k":0.322,"b":0.306},{"s":"k","k":0.330,"b":0.272},{"s":"k","k":0.338,"b":0.262},{"s":"k","k":0.346,"b":0.303},{"s":"k","k":0.354,"b":0.310},{"s":"k","k":0.362,"b":0.270},{"s":"k","k":0.370,"b":0.328},{"s":"k","k":0.378,"b":0.287},{"s":"k","k":0.386,"b":0.266},{"s":"k","k":0.394,"b":0.315},{"s":"k","k":0.402,"b":0.337},{"s":"k","k":0.410,"b":0.293},{"s":"k","k":0.418,"b":0.283},{"s":"k","k":0.426,"b":0.332},{"s":"k","k":0.434,"b":0.319},{"s":"k","k":0.442,"b":0.280},{"s":"k","k":0.450,"b":0.362},{"s":"k","k":0.458,"b":0.319},{"s":"k","k":0.466,"b":0.306},{"s":"k","k":0.474,"b":0.350},{"s":"k","k":0.482,"b":0.355},{"s":"k","k":0.490,"b":0.309},{"s":"k","k":0.498,"b":0.374},{"s":"k","k":0.506,"b":0.327},{"s":"k","k":0.514,"b":0.302},{"s":"k","k":0.522,"b":0.355},{"s":"k","k":0.530,"b":0.378},{"s":"k","k":0.538,"b":0.329},{"s":"k","k":0.546,"b":0.318},{"s":"k","k":0.554,"b":0.372},{"s":"k","k":0.562,"b":0.357},{"s":"k","k":0.570,"b":0.312},{"s":"k","k":0.578,"b":0.39},{"s":"k","k":0.586,"b":0.354},{"s":"k","k":0.594,"b":0.337},{"s":"k","k":0.602,"b":0.385}
],
"labels":[
{"t":"lᵢlⱼν","k":0.1465,"b":0.49,"c":"#ff0000"},
{"t":"lqᵢq̄ⱼ","k":0.196,"b":0.29,"c":"#000000"},
{"t":"νqq̄","k":0.149,"b":0.0467,"c":"#0000ff"},
{"t":"3ν","k":0.3225,"b":0.030,"c":"#f9b040"}
]
},
"layer":[
{"data":{"name":"pts"},
"mark":{"type":"circle","size":24,"opacity":1},
"encoding":{
"x":{"field":"k","type":"quantitative","scale":{"domain":[0.1,0.611],"nice":false,"zero":false},
"axis":{"orient":"bottom","values":[0.1,0.2,0.3,0.4,0.5,0.6],"format":".1f","tickSize":-6,
"labelPadding":11,"labelFlush":false,"labelOverlap":false,"labelFont":"Liberation Serif","labelFontSize":15,
"title":"κ","titleFont":"Liberation Serif","titleFontStyle":"italic","titleFontSize":17,"titleX":344,"titleY":40,"titleAlign":"center","titleBaseline":"middle"}},
"y":{"field":"b","type":"quantitative","scale":{"type":"log","domain":[0.01,1],"nice":false},
"axis":{"orient":"left","values":[0.01,0.1,1],
"labelExpr":"datum.value > 0.5 ? '10⁰' : (datum.value > 0.05 ? '10⁻¹' : '10⁻²')",
"tickSize":-6,"labelPadding":12,"labelOverlap":false,"labelFlush":false,"labelFont":"Liberation Serif","labelFontSize":15,
"title":"Br(χ̃₁⁰ = B̃⁰)","titleFont":"Liberation Serif","titleFontStyle":"italic","titleFontSize":18,"titleAnchor":"end","titleX":-46,"titleBaseline":"middle"}},
"color":{"field":"s","type":"nominal","scale":{"domain":["o","u","r","k"],"range":["#ff8000","#0000ff","#ff0000","#000000"]},"legend":null}
}},
{"data":{"name":"labels"},
"mark":{"type":"text","font":"Liberation Serif","fontStyle":"italic","fontSize":20,"align":"center","baseline":"middle"},
"encoding":{
"x":{"field":"k","type":"quantitative",
"axis":{"orient":"bottom","values":[0.12,0.14,0.16,0.18,0.22,0.24,0.26,0.28,0.32,0.34,0.36,0.38,0.42,0.44,0.46,0.48,0.52,0.54,0.56,0.58],"labels":false,"tickSize":-3,"domain":false,"title":null}},
"y":{"field":"b","type":"quantitative",
"axis":{"orient":"left","values":[0.02,0.03,0.04,0.05,0.06,0.07,0.08,0.09,0.2,0.3,0.4,0.5,0.6,0.7,0.8,0.9],"labels":false,"tickSize":-4,"domain":false,"title":null}},
"text":{"field":"t"},
"color":{"field":"c","type":"nominal","scale":null}
}}
]
}
